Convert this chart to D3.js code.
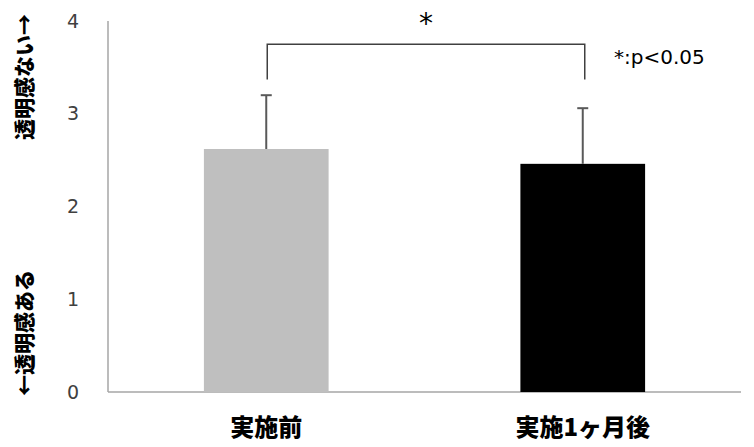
<!DOCTYPE html>
<html>
<head>
<meta charset="utf-8">
<script src="https://cdn.jsdelivr.net/npm/d3@7"></script>
<style>
  body { margin: 0; background: #fff; }
</style>
</head>
<body>
<div id="chart"></div>
<script>
// data
var categories = ['実施前', '実施1ヶ月後'];
var means = [2.62, 2.46];
var sds = [0.58, 0.60];
var barColors = ['#bfbfbf', '#000000'];
var yTicks = [0, 1, 2, 3, 4];

var width = 754, height = 447;
var plotLeft = 108, plotRight = 741, plotTop = 21, plotBottom = 392;

var svg = d3.select('#chart').append('svg')
  .attr('width', width)
  .attr('height', height);

var x = d3.scaleBand()
  .domain(categories)
  .range([plotLeft, plotRight])
  .paddingInner(0.606)
  .paddingOuter(0.303);

var y = d3.scaleLinear()
  .domain([0, 4])
  .range([plotBottom, plotTop]);

// axes lines
svg.append('line')
  .attr('x1', plotLeft).attr('x2', plotLeft)
  .attr('y1', y(4)).attr('y2', y(0))
  .style('stroke', '#a6a6a6').style('stroke-width', 1.5);
svg.append('line')
  .attr('x1', plotLeft).attr('x2', plotRight)
  .attr('y1', y(0)).attr('y2', y(0))
  .style('stroke', '#a6a6a6').style('stroke-width', 1.5);

// y tick labels
svg.selectAll('.ytick')
  .data(yTicks)
  .enter().append('text')
  .attr('class', 'ytick')
  .attr('x', 73)
  .attr('y', function(d) { return y(d); })
  .attr('dy', '0.35em')
  .attr('text-anchor', 'middle')
  .style('font-family', 'DejaVu Sans, sans-serif')
  .style('font-size', '19px')
  .style('fill', '#404040')
  .text(function(d) { return d; });

// bars
svg.selectAll('.bar')
  .data(categories)
  .enter().append('rect')
  .attr('class', 'bar')
  .attr('x', function(d) { return x(d); })
  .attr('y', function(d, i) { return y(means[i]); })
  .attr('width', x.bandwidth())
  .attr('height', function(d, i) { return y(0) - y(means[i]); })
  .style('fill', function(d, i) { return barColors[i]; });

// error bars (upper only)
var eb = svg.selectAll('.err')
  .data(categories)
  .enter().append('g')
  .attr('class', 'err');
eb.append('line')
  .attr('x1', function(d) { return x(d) + x.bandwidth() / 2; })
  .attr('x2', function(d) { return x(d) + x.bandwidth() / 2; })
  .attr('y1', function(d, i) { return y(means[i]); })
  .attr('y2', function(d, i) { return y(means[i] + sds[i]); })
  .style('stroke', '#595959').style('stroke-width', 2);
eb.append('line')
  .attr('x1', function(d) { return x(d) + x.bandwidth() / 2 - 5.5; })
  .attr('x2', function(d) { return x(d) + x.bandwidth() / 2 + 5.5; })
  .attr('y1', function(d, i) { return y(means[i] + sds[i]); })
  .attr('y2', function(d, i) { return y(means[i] + sds[i]); })
  .style('stroke', '#595959').style('stroke-width', 2);

// significance bracket
var bx1 = x(categories[0]) + x.bandwidth() / 2 + 1;
var bx2 = x(categories[1]) + x.bandwidth() / 2 + 2;
var byTop = y(3.75), byLeg = y(3.37);
svg.append('path')
  .attr('d', 'M' + bx1 + ',' + byLeg + 'V' + byTop + 'H' + bx2 + 'V' + byLeg)
  .style('fill', 'none')
  .style('stroke', '#404040')
  .style('stroke-width', 1.5);

svg.append('text')
  .attr('x', (bx1 + bx2) / 2)
  .attr('y', 33)
  .attr('text-anchor', 'middle')
  .style('font-family', 'DejaVu Sans, sans-serif')
  .style('font-size', '28px')
  .style('fill', '#000')
  .text('*');

svg.append('text')
  .attr('x', 614)
  .attr('y', 64)
  .style('font-family', 'DejaVu Sans, sans-serif')
  .style('font-size', '20px')
  .style('fill', '#000')
  .text('*:p<0.05');

// category labels
svg.selectAll('.xlab')
  .data(categories)
  .enter().append('text')
  .attr('class', 'xlab')
  .attr('x', function(d) { return x(d) + x.bandwidth() / 2; })
  .attr('y', 436)
  .attr('text-anchor', 'middle')
  .style('font-family', 'Noto Sans CJK JP, sans-serif')
  .style('font-size', '24px')
  .style('font-weight', '900')
  .style('fill', '#000')
  .text(function(d) { return d; });

// y axis notes, rotated
svg.append('text')
  .attr('transform', 'translate(25,77) rotate(-90)')
  .attr('dy', '0.35em')
  .attr('text-anchor', 'middle')
  .style('font-family', 'Noto Sans CJK JP, sans-serif')
  .style('font-size', '21px')
  .style('font-weight', '900')
  .text('透明感ない→');
svg.append('text')
  .attr('transform', 'translate(25,333) rotate(-90)')
  .attr('dy', '0.35em')
  .attr('text-anchor', 'middle')
  .style('font-family', 'Noto Sans CJK JP, sans-serif')
  .style('font-size', '21px')
  .style('font-weight', '900')
  .text('←透明感ある');
</script>
</body>
</html>
